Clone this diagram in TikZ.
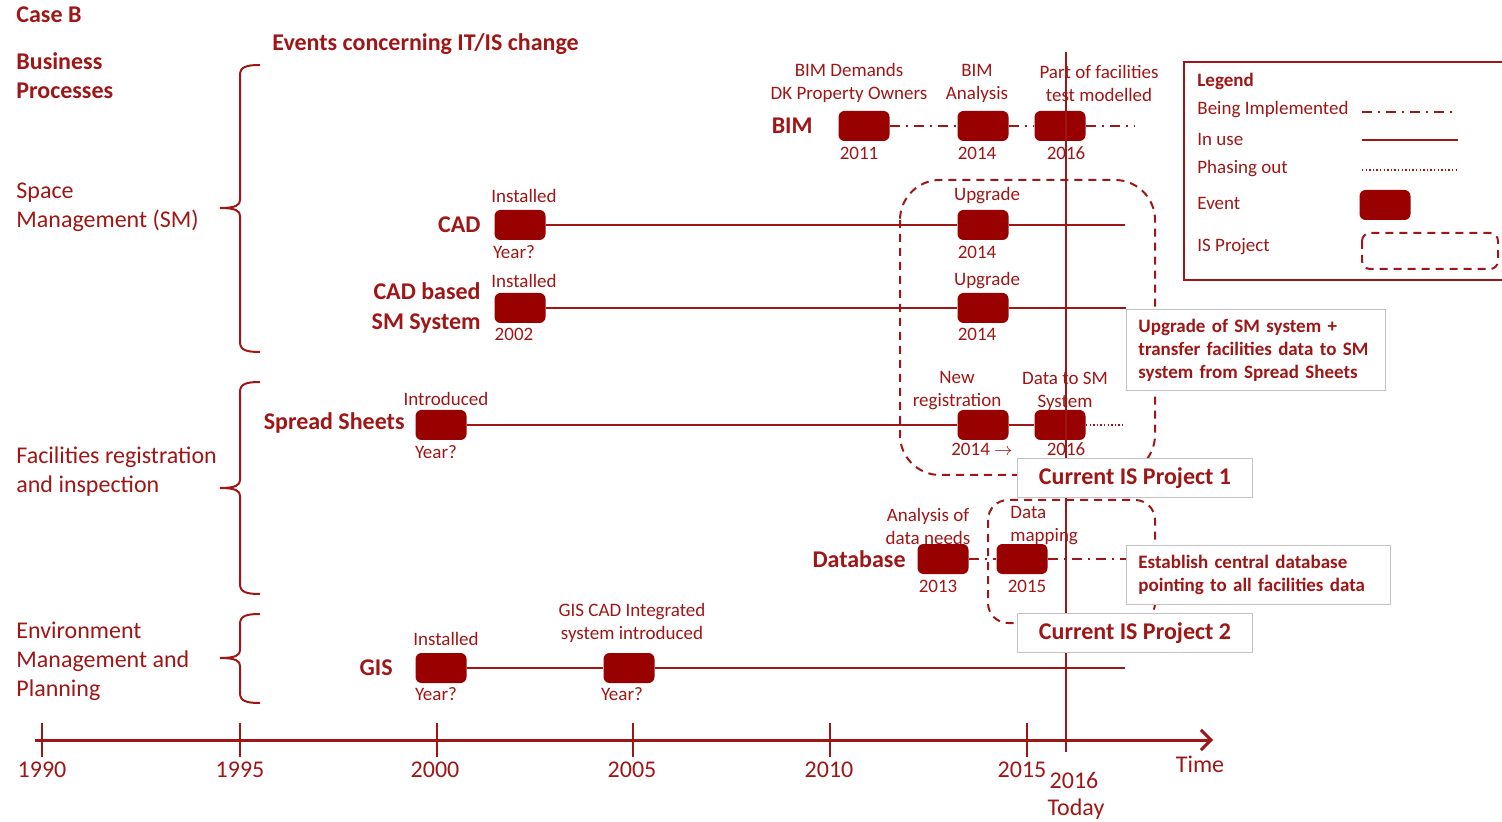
\documentclass[tikz,border=0pt]{standalone}
\usepackage{fontspec}
\setmainfont{Carlito}
\usepackage{tikz}
\usetikzlibrary{arrows.meta, positioning}

\definecolor{casered}{RGB}{158,22,22}
\definecolor{eventred}{RGB}{153,0,0}
\definecolor{notegray}{RGB}{195,195,195}

\tikzset{
  event/.style={fill=eventred, rounded corners=3pt, minimum width=25.5pt, minimum height=15pt, inner sep=0pt},
  small/.style={text=casered, font=\fontsize{9.5}{11.5}\selectfont, align=center, inner sep=0pt},
  big/.style={text=casered, font=\fontsize{12}{14.5}\selectfont, align=left, anchor=west, inner sep=0pt},
  sysname/.style={text=casered, font=\bfseries\fontsize{12}{15}\selectfont, align=right, anchor=east, inner sep=0pt},
  inuse/.style={draw=casered, line width=1pt},
  implementing/.style={draw=casered, line width=1pt, dash pattern=on 5pt off 3pt on 1pt off 3pt},
  phasing/.style={draw=casered, line width=1pt, dash pattern=on 0.7pt off 1.1pt},
  project/.style={draw=casered, line width=1pt, dash pattern=on 4pt off 3pt},
  callout/.style={draw=notegray, fill=white, text=casered, font=\bfseries\fontsize{9.5}{11.5}\selectfont, align=left, anchor=north west, inner xsep=6pt},
  projlabel/.style={draw=notegray, fill=white, text=casered, font=\bfseries\fontsize{12}{14}\selectfont, minimum width=117.5pt, minimum height=19.5pt},
}

\begin{document}
\begin{tikzpicture}[x=0.5pt, y=-0.5pt]
  \useasboundingbox (0,0) rectangle (1502,822);

  % headings and business processes
  \node[big, font=\bfseries\fontsize{12}{14.5}\selectfont] (casetitle) at (16,15) {Case B};
  \node[big, font=\bfseries\fontsize{12}{14.5}\selectfont] (eventstitle) at (272,44) {Events concerning IT/IS change};
  \node[big, font=\bfseries\fontsize{12}{14.5}\selectfont] (bizproc) at (16,76) {Business\\Processes};
  \node[big] (spacemgmt) at (16,207) {Space\\Management (SM)};
  \node[big] (facreg) at (16,472) {Facilities registration\\and inspection};
  \node[big] (envplan) at (16,661) {Environment\\Management and\\Planning};

  % braces
  \foreach \top/\tip/\bot in {65/208/352, 382/488/594, 614/658/703} {
    \draw[casered, line width=1pt] (260,\top) .. controls (246,\top) and (240,\top+2) .. (240,\top+10)
      -- (240,\tip-8) .. controls (240,\tip-3) and (236,\tip) .. (220,\tip)
      .. controls (236,\tip) and (240,\tip+3) .. (240,\tip+8)
      -- (240,\bot-10) .. controls (240,\bot-2) and (246,\bot) .. (260,\bot);
  }

  % systems
  \node[sysname] (bimname) at (813,126) {BIM};
  \node[sysname] (cadname) at (481,225) {CAD};
  \node[sysname] (smname) at (481,308) {CAD based\\SM System};
  \node[sysname] (sheetsname) at (405,423) {Spread Sheets};
  \node[sysname] (dbname) at (906,559) {Database};
  \node[sysname] (gisname) at (393,668) {GIS};

  % events
  \node[event] (bim1) at (864,126) {};
  \node[event] (bim2) at (983,126) {};
  \node[event] (bim3) at (1060,126) {};
  \node[event] (cad1) at (520,225) {};
  \node[event] (cad2) at (983,225) {};
  \node[event] (sm1) at (520,308) {};
  \node[event] (sm2) at (983,308) {};
  \node[event] (sh1) at (441,425) {};
  \node[event] (sh2) at (983,425) {};
  \node[event] (sh3) at (1060,425) {};
  \node[event] (db1) at (943,559) {};
  \node[event] (db2) at (1022,559) {};
  \node[event] (gis1) at (441,668) {};
  \node[event] (gis2) at (629,668) {};

  % lines
  \coordinate (bimend) at (1135,126);
  \coordinate (cadend) at (1125,225);
  \coordinate (smend) at (1126,308);
  \coordinate (shend) at (1125,425);
  \coordinate (dbend) at (1126,559);
  \coordinate (gisend) at (1125,668);
  \draw[implementing] (bim1) -- (bim2) -- (bim3) -- (bimend);
  \draw[inuse] (cad1) -- (cad2) -- (cadend);
  \draw[inuse] (sm1) -- (sm2) -- (smend);
  \draw[inuse] (sh1) -- (sh2) -- (sh3);
  \draw[phasing] (sh3) -- (shend);
  \draw[implementing] (db1) -- (db2) -- (dbend);
  \draw[inuse] (gis1) -- (gis2) -- (gisend);

  % event texts
  \node[small] (bim1top) at (849,83) {BIM Demands\\DK Property Owners};
  \node[small] (bim2top) at (977,83) {BIM\\Analysis};
  \node[small] (bim3top) at (1099,83) {Part of facilities\\test modelled};
  \node[small] (bim1yr) at (859,153) {2011};
  \node[small] (bim2yr) at (977,153) {2014};
  \node[small] (bim3yr) at (1066,153) {2016};
  \node[small] (cad1top) at (524,196) {Installed};
  \node[small] (cad1yr) at (514,252) {Year?};
  \node[small] (cad2top) at (987,196) {Upgrade};
  \node[small] (cad2yr) at (977,252) {2014};
  \node[small] (sm1top) at (524,281) {Installed};
  \node[small] (sm1yr) at (514,334) {2002};
  \node[small] (sm2top) at (987,281) {Upgrade};
  \node[small] (sm2yr) at (977,334) {2014};
  \node[small] (sh1top) at (446,399) {Introduced};
  \node[small] (sh1yr) at (436,452) {Year?};
  \node[small] (sh2top) at (957,391) {New\\registration};
  \node[small] (sh2yr) at (982,449) {2014 $\rightarrow$};
  \node[small] (sh3top) at (1065,391) {Data to SM\\System};
  \node[small] (sh3yr) at (1066,449) {2016};
  \node[small] (db1top) at (928,526) {Analysis of\\data needs};
  \node[small] (db1yr) at (938,586) {2013};
  \node[small, align=left, anchor=west] (db2top) at (1010,526) {Data\\mapping};
  \node[small] (db2yr) at (1027,586) {2015};
  \node[small] (gis1top) at (446,639) {Installed};
  \node[small] (gis1yr) at (436,694) {Year?};
  \node[small] (gis2top) at (632,623) {GIS CAD Integrated\\system introduced};
  \node[small] (gis2yr) at (622,694) {Year?};

  % IS projects
  \draw[project, rounded corners=20pt] (900,180) rectangle (1155,475);
  \draw[project, rounded corners=10pt] (988,500) rectangle (1155,623);

  % today
  \coordinate (todaytop) at (1066,52);
  \coordinate (todaybot) at (1066,752);
  \draw[casered, line width=0.8pt] (todaytop) -- (todaybot);

  \node[callout, text width=117.5pt, minimum height=40.5pt] (smnote) at (1126,309)
    {Upgrade of SM system +\\transfer facilities data to SM\\system from Spread Sheets};
  \node[callout, text width=120pt, minimum height=29.5pt] (dbnote) at (1126,545)
    {Establish central database\\pointing to all facilities data};
  \node[projlabel] (proj1) at (1135,478) {Current IS Project 1};
  \node[projlabel] (proj2) at (1135,633) {Current IS Project 2};

  % time axis
  \coordinate (axstart) at (35,740);
  \coordinate (axend) at (1213,740);
  \draw[casered, line width=1.5pt, -{Straight Barb[length=5pt, width=10pt]}] (axstart) -- (axend);
  \foreach \x/\lx/\yr in {42/42/1990, 240/240/1995, 437/435/2000, 633/632/2005, 830/829/2010, 1027/1022/2015} {
    \draw[casered, line width=1pt] (\x,723) -- (\x,757);
    \node[big, anchor=center] (yr\yr) at (\lx,770) {\yr};
  }
  \node[big, anchor=center] (yr2016) at (1074,780) {2016};
  \node[big, anchor=center] (today) at (1076,809) {Today};
  \node[big, anchor=center] (time) at (1200,764) {Time};

  % legend
  \draw[casered, line width=1pt] (1506,62) -- (1184,62) -- (1184,280) -- (1506,280);
  \node[small, anchor=west, font=\bfseries\fontsize{9.5}{11.5}\selectfont] (legtitle) at (1197,81) {Legend};
  \node[small, anchor=west] (legimpl) at (1197,110) {Being Implemented};
  \node[small, anchor=west] (leguse) at (1197,139) {In use};
  \node[small, anchor=west] (legphase) at (1197,169) {Phasing out};
  \node[small, anchor=west] (legevent) at (1197,203) {Event};
  \node[small, anchor=west] (legproj) at (1197,247) {IS Project};
  \draw[implementing] (1362,112) -- (1456,112);
  \draw[inuse] (1362,140) -- (1458,140);
  \draw[phasing] (1362,170) -- (1458,170);
  \node[event] (legbox) at (1385,205) {};
  \draw[project, rounded corners=4pt] (1362,233) rectangle (1498,269);
\end{tikzpicture}
\end{document}
